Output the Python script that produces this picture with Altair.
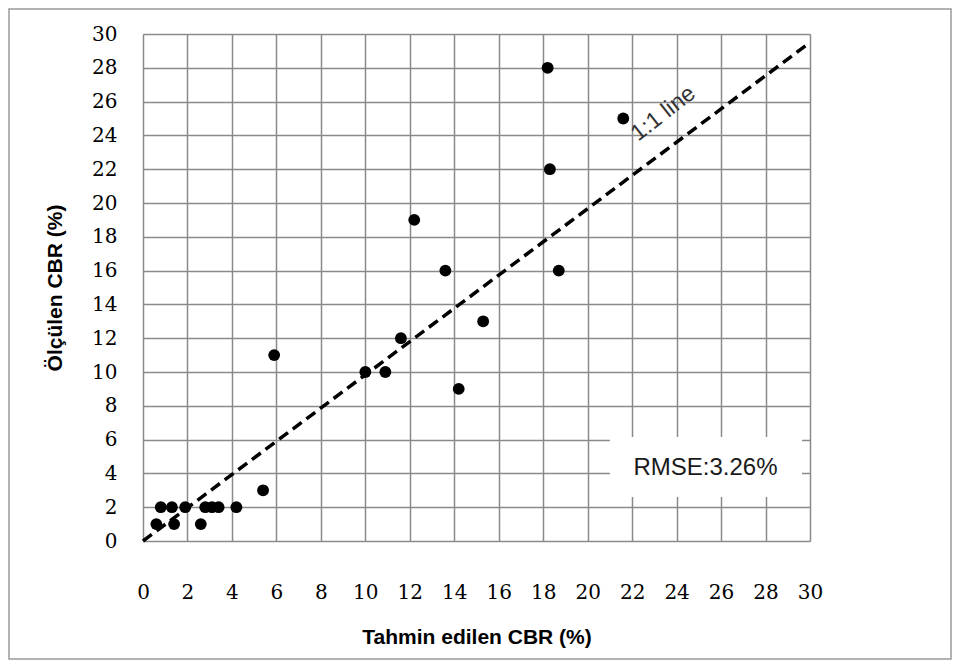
import altair as alt
import pandas as pd

# Scatter data (predicted vs measured CBR, %)
pred_cbr = [0.6, 0.8, 1.3, 1.4, 1.9, 2.6, 2.8, 3.1, 3.4, 4.2, 5.4, 5.9, 10.0, 10.9,
            11.6, 12.2, 13.6, 14.2, 15.3, 18.2, 18.3, 18.7, 21.6]
meas_cbr = [1, 2, 2, 1, 2, 1, 2, 2, 2, 2, 3, 11, 10, 10,
            12, 19, 16, 9, 13, 28, 22, 16, 25]

# 1:1 reference line
line_x = [0, 30]
line_y = [0, 29.5]

tick_values = list(range(0, 31, 2))

pts = pd.DataFrame({"x": pred_cbr, "y": meas_cbr})
ln = pd.DataFrame({"x": line_x, "y": line_y})

GRID = "#8a8a8a"
W, H = 667, 507

xscale = alt.Scale(domain=[0, 30], nice=False, zero=False)
yscale = alt.Scale(domain=[0, 30], nice=False, zero=False)

common = dict(values=tick_values, grid=True, gridColor=GRID, gridWidth=1.5, gridOpacity=1,
              domain=False, ticks=False, labelFont="DejaVu Serif", labelFontSize=20,
              labelColor="#000", labelOverlap=False, labelFlush=False,
              titleFont="Liberation Sans", titleFontSize=21, titleFontWeight="bold",
              titleColor="#000", titleBaseline="middle", titleAlign="center")

xaxis = alt.Axis(labelPadding=41, labelAngle=0, title="Tahmin edilen CBR (%)",
                 titleX=W / 2, titleY=96, **common)
yaxis = alt.Axis(labelPadding=26, title="Ölçülen CBR (%)",
                 titleX=-88, titleY=H / 2, titleAngle=270, **common)

base_pts = alt.Chart(pts).mark_circle(color="black", opacity=1, size=140).encode(
    x=alt.X("x:Q", scale=xscale, axis=xaxis),
    y=alt.Y("y:Q", scale=yscale, axis=yaxis),
)

line = alt.Chart(ln).mark_line(color="black", strokeWidth=3.5, strokeDash=[11, 6]).encode(
    x=alt.X("x:Q", scale=xscale, axis=xaxis),
    y=alt.Y("y:Q", scale=yscale, axis=yaxis),
)

one = pd.DataFrame({"a": [0]})

box = alt.Chart(one).mark_rect(fill="white").encode(
    x=alt.X(datum=21.0, scale=xscale, axis=xaxis), x2=alt.X2(datum=29.64),
    y=alt.Y(datum=2.6, scale=yscale, axis=yaxis), y2=alt.Y2(datum=6.15),
)

rmse = alt.Chart(one).mark_text(
    text="RMSE:3.26%", font="Liberation Sans", fontSize=24, color="#1a1a1a",
    align="center", baseline="middle").encode(
    x=alt.X(datum=25.3, scale=xscale, axis=xaxis),
    y=alt.Y(datum=4.3, scale=yscale, axis=yaxis))

lbl = alt.Chart(one).mark_text(
    text="1:1 line", font="Liberation Sans", fontSize=23, color="#333",
    align="center", baseline="middle", angle=322).encode(
    x=alt.X(datum=23.4, scale=xscale, axis=xaxis),
    y=alt.Y(datum=25.3, scale=yscale, axis=yaxis))

border = alt.Chart(one).mark_rect(
    fill=None, stroke="#9a9a9a", strokeWidth=1.5).encode(
    x=alt.value(-134), x2=alt.value(808), y=alt.value(-25), y2=alt.value(625))

chart = alt.layer(base_pts, box, line, rmse, lbl, border).properties(
    width=W, height=H,
    padding={"left": 135, "top": 26, "right": 142, "bottom": 120},
    autosize=alt.AutoSizeParams(type="none"),
).configure_view(stroke=GRID, strokeWidth=1.5).configure(background="white")

chart.save("out.html", embed_options={"renderer": "svg", "actions": False})
